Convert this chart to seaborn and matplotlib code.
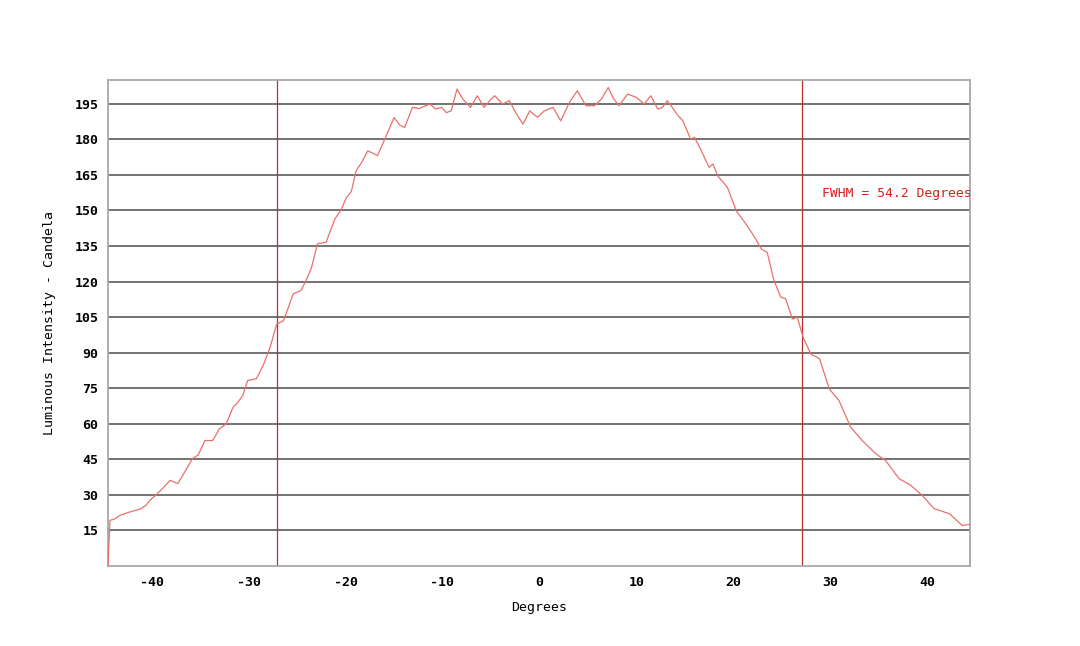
import pandas as pd
import matplotlib
matplotlib.use("Agg")
import matplotlib.pyplot as plt
import seaborn as sns

# Dados (graus x intensidade em candela)
graus = [-44.5, -44.3, -43.8, -43.3, -42.3, -41.1, -40.6, -40.2, -39.4, -38.8, -38.1,
         -37.3, -36.6, -35.8, -35.2, -34.5, -33.7, -33.0, -32.3, -31.6, -31.2, -30.6,
         -30.1, -29.2, -28.5, -27.8, -27.1, -26.4, -25.9, -25.4, -24.6, -24.0, -23.5,
         -22.9, -22.0, -21.1, -20.5, -19.9, -19.4, -18.9, -18.3, -17.7, -16.7, -15.8,
         -15.0, -14.4, -13.9, -13.1, -12.4, -11.7, -11.3, -10.7, -10.1, -9.6, -9.1,
         -8.5, -7.9, -7.1, -6.4, -5.7, -5.1, -4.6, -3.8, -3.1, -2.4, -1.7, -1.0, -0.2,
         0.5, 1.4, 2.2, 3.1, 3.9, 4.8, 5.7, 6.4, 7.1, 7.6, 8.2, 9.1, 10.0, 10.8, 11.5,
         12.2, 12.7, 13.2, 13.7, 14.2, 14.8, 15.6, 16.0, 16.7, 17.5, 17.9, 18.4, 19.4,
         20.3, 21.3, 22.2, 22.9, 23.5, 24.2, 24.9, 25.4, 26.1, 26.6, 27.2, 28.0, 28.9,
         29.9, 30.9, 32.1, 33.3, 34.7, 35.7, 37.1, 38.3, 39.5, 40.7, 42.3, 43.6, 44.4]
intensidade = [0.0, 19.2, 19.8, 21.3, 22.7, 24.1, 25.5, 27.6, 30.5, 33.0, 36.1,
               34.7, 39.5, 45.2, 46.8, 52.9, 52.9, 57.9, 60.0, 67.0, 68.5, 71.9,
               78.2, 79.0, 84.5, 92.0, 102.0, 103.5, 109.0, 114.8, 116.2, 121.0, 126.0,
               135.9, 136.6, 146.4, 149.9, 155.5, 158.0, 166.8, 170.5, 175.2, 173.1, 181.5,
               189.2, 186.0, 185.0, 193.5, 193.0, 194.2, 194.9, 192.8, 193.5, 191.3, 192.0,
               201.2, 197.0, 193.5, 198.4, 193.5, 196.5, 198.4, 194.9, 196.3, 191.0, 186.4, 192.0, 189.3,
               192.0, 193.5, 187.8, 195.6, 200.5, 194.2, 194.2, 197.0, 201.9, 197.5, 194.2, 199.1, 197.7, 194.9, 198.4,
               192.8, 193.5, 196.3, 193.5, 190.5, 187.8, 180.1, 180.8, 175.2, 168.2, 169.6, 164.6, 159.7,
               149.9, 144.3, 138.7, 133.7, 132.3, 120.4, 113.4, 112.7, 104.2, 104.9, 96.5, 89.4, 87.4,
               74.7, 69.8, 58.6, 52.9, 47.3, 44.5, 36.8, 34.0, 29.7, 24.2, 22.0, 17.1, 17.5]

fwhm_esq = -27.1
fwhm_dir = 27.1
texto_fwhm = "FWHM = 54.2 Degrees"

y_ticks = list(range(15, 196, 15))
x_ticks = list(range(-40, 41, 10))

df = pd.DataFrame({"Graus": graus, "Intensidade": intensidade})

sns.set_style("white")
plt.rcParams["font.family"] = ["DejaVu Sans Mono"]
plt.rcParams["axes.unicode_minus"] = False

fig = plt.figure(figsize=(10.8, 6.46), dpi=100)
ax = fig.add_axes([0.1, 0.124, 0.798, 0.752])

# Grade horizontal
for yv in y_ticks:
    ax.axhline(yv, color="#727272", linewidth=1.4, zorder=1)

sns.lineplot(data=df, x="Graus", y="Intensidade", color="#e8706a", linewidth=0.9,
             sort=False, ax=ax, zorder=3)

ax.axvline(fwhm_esq, color="#b5302e", linewidth=0.9, zorder=2)
ax.axvline(fwhm_dir, color="#b5302e", linewidth=0.9, zorder=2)

ax.text(29.1, 157, texto_fwhm, color="#d42020", fontsize=9.45, va="center",
        ha="left", clip_on=True, zorder=4)

ax.set_xlim(-44.5, 44.4)
ax.set_ylim(0, 205)
ax.set_xticks(x_ticks)
ax.set_yticks(y_ticks)
ax.tick_params(axis="both", direction="out", length=4, width=1, color="#8a8a8a",
               labelsize=9.5, labelcolor="black", pad=3)
for lbl in ax.get_xticklabels() + ax.get_yticklabels():
    lbl.set_fontweight("bold")

for s in ax.spines.values():
    s.set_color("#a8a8a8")
    s.set_linewidth(1.3)

ax.set_xlabel("Degrees", fontsize=9.5, labelpad=9, color="black")
ax.set_ylabel("Luminous Intensity - Candela", fontsize=9.5, labelpad=13, color="black")

plt.savefig("out.png", dpi=100)
